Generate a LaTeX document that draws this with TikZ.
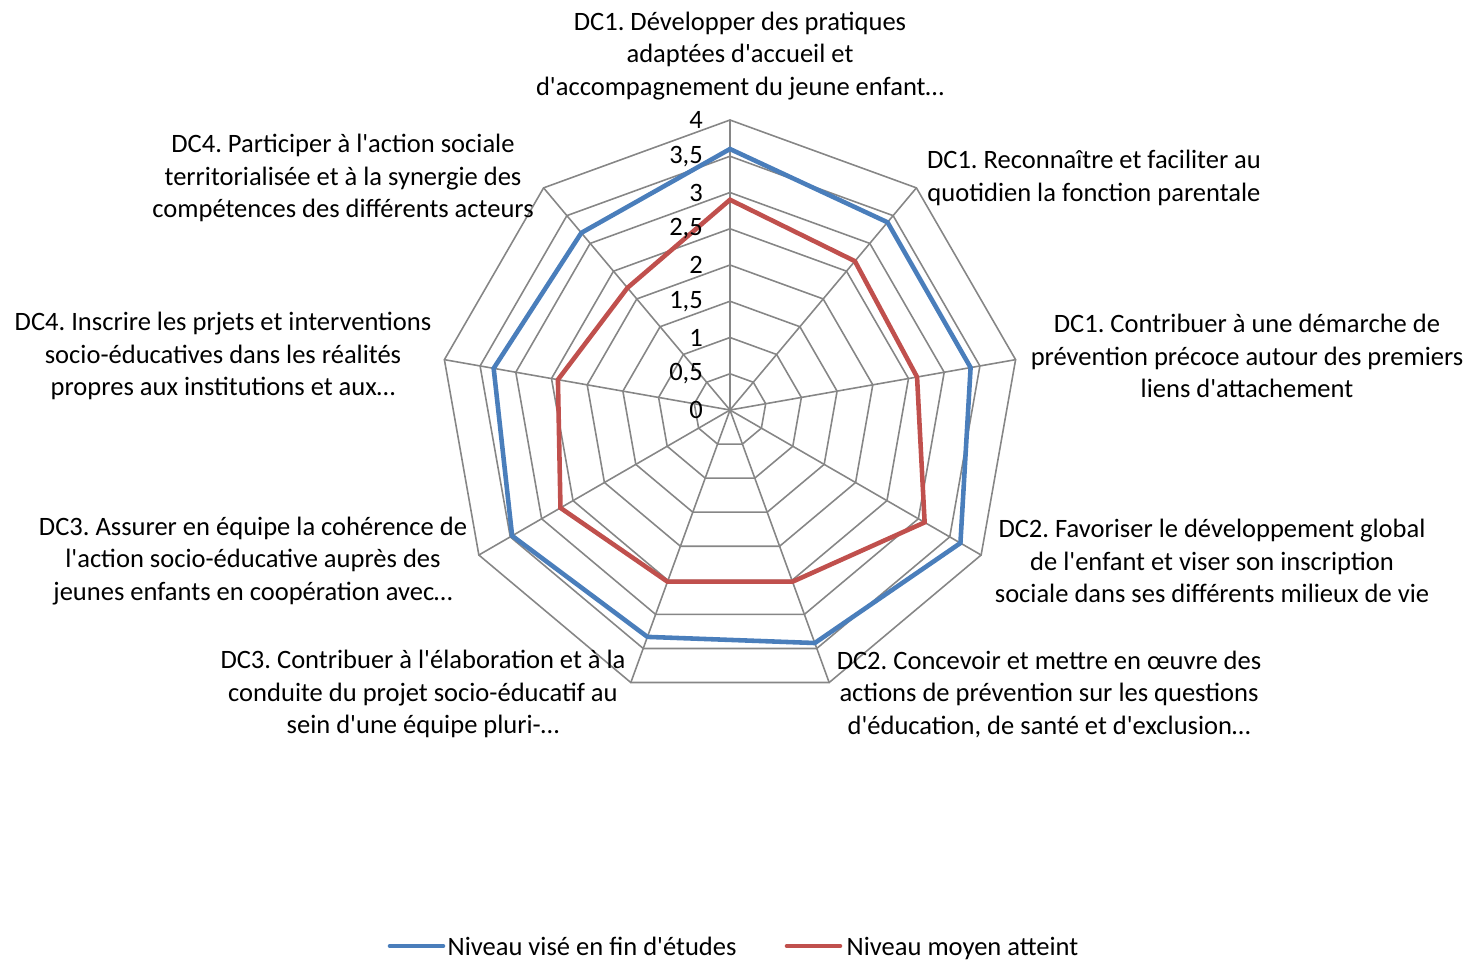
\documentclass[tikz,border=0pt]{standalone}
\usepackage{tkz-euclide}
\usepackage{fontspec}
\setmainfont{Carlito}[Ligatures=TeXOff]
\definecolor{gridgray}{RGB}{134,134,134}
\definecolor{seriesblue}{RGB}{74,126,187}
\definecolor{seriesred}{RGB}{192,80,77}
\frenchspacing

\begin{document}
\begin{tikzpicture}[
    grid/.style={draw=gridgray,line width=0.45pt},
    serie/.style={line width=1.3pt,line join=miter},
    axislabel/.style={align=center,inner sep=0pt,font=\fontsize{7.55}{9.25}\selectfont},
    ticklabel/.style={anchor=east,inner sep=0pt,font=\fontsize{7.55}{8}\selectfont}]
    \useasboundingbox (-7.30,-5.50) rectangle (7.42,4.10);
    % Points
    \tkzDefPoint(0,0){O}
    \foreach \k in {1,...,8}{
      \foreach \i in {1,...,9}{
        \tkzDefPoint({130-40*\i}:{0.3625*\k}){r\k\i}
      }
    }
    \foreach \v [count=\i] in {3.6,3.38,3.37,3.67,3.42,3.33,3.47,3.31,3.19}{
      \tkzDefPoint({130-40*\i}:{0.725*\v}){b\i}
    }
    \foreach \v [count=\i] in {2.9,2.68,2.62,3.1,2.52,2.52,2.7,2.41,2.2}{
      \tkzDefPoint({130-40*\i}:{0.725*\v}){m\i}
    }
    % Grid
    \foreach \k in {1,...,8}{
      \draw[grid] (r\k1) -- (r\k2) -- (r\k3) -- (r\k4) -- (r\k5) -- (r\k6)
        -- (r\k7) -- (r\k8) -- (r\k9) -- cycle;
    }
    \tkzDrawSegments[grid](O,r81 O,r82 O,r83 O,r84 O,r85 O,r86 O,r87 O,r88 O,r89)
    % Series
    \tkzDrawPolygon[serie,seriesred](m1,m2,m3,m4,m5,m6,m7,m8,m9)
    \tkzDrawPolygon[serie,seriesblue](b1,b2,b3,b4,b5,b6,b7,b8,b9)
    % Scale
    \foreach \k/\lab in {0/0,1/{0,5},2/1,3/{1,5},4/2,5/{2,5},6/3,7/{3,5},8/4}{
      \node[ticklabel] (t\k) at (-0.265,{0.3625*\k}) {\lab};
    }
    % Labels
    \node[axislabel] (dc11) at (0.10,3.54) {DC1. Développer des pratiques\\adaptées d'accueil et\\d'accompagnement du jeune enfant…};
    \node[axislabel] (dc12) at (3.64,2.32) {DC1. Reconnaître et faciliter au\\quotidien la fonction parentale};
    \node[axislabel] (dc13) at (5.17,0.54) {DC1. Contribuer à une démarche de\\prévention précoce autour des premiers\\liens d'attachement};
    \node[axislabel] (dc21) at (4.82,-1.51) {DC2. Favoriser le développement global\\de l'enfant et viser son inscription\\sociale dans ses différents milieux de vie};
    \node[axislabel] (dc22) at (3.19,-2.84) {DC2. Concevoir et mettre en œuvre des\\actions de prévention sur les questions\\d'éducation, de santé et d'exclusion…};
    \node[axislabel] (dc31) at (-3.07,-2.84) {DC3. Contribuer à l'élaboration et à la\\conduite du projet socio-éducatif au\\sein d'une équipe pluri-…};
    \node[axislabel] (dc32) at (-4.77,-1.51) {DC3. Assurer en équipe la cohérence de\\l'action socio-éducative auprès des\\jeunes enfants en coopération avec…};
    \node[axislabel] (dc41) at (-5.07,0.54) {DC4. Inscrire les prjets et interventions\\socio-éducatives dans les réalités\\propres aux institutions et aux…};
    \node[axislabel] (dc42) at (-3.87,2.32) {DC4. Participer à l'action sociale\\territorialisée et à la synergie des\\compétences des différents acteurs};
    % Legend
    \tkzDefPoint(-3.40,-5.36){la}
    \tkzDefPoint(-2.87,-5.36){lb}
    \tkzDefPoint(0.57,-5.36){lc}
    \tkzDefPoint(1.10,-5.36){ld}
    \tkzDrawSegment[serie,seriesblue](la,lb)
    \tkzDrawSegment[serie,seriesred](lc,ld)
    \node[axislabel,anchor=base west] (lvise) at (-2.83,-5.45) {Niveau visé en fin d'études};
    \node[axislabel,anchor=base west] (lmoyen) at (1.16,-5.45) {Niveau moyen atteint};
\end{tikzpicture}
\end{document}
